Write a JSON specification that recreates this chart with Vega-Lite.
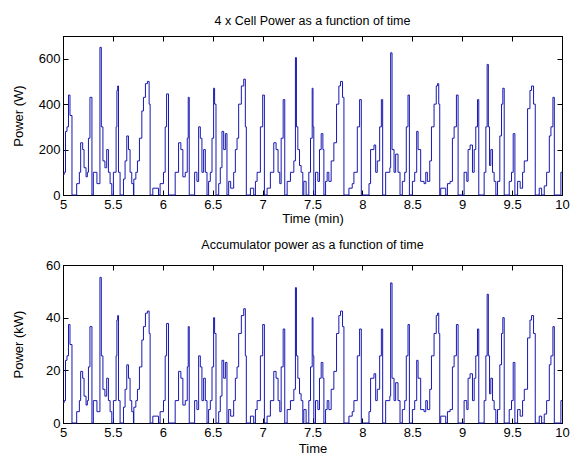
{
  "$schema": "https://vega.github.io/schema/vega-lite/v6.json",
  "background": "white",
  "padding": {"left": 11, "top": 14, "right": 4, "bottom": 4},
  "spacing": 12,
  "config": {
    "font": "Liberation Sans",
    "view": {"stroke": "black", "strokeWidth": 1},
    "axis": {
      "grid": false,
      "domainColor": "black",
      "tickColor": "black",
      "labelColor": "black",
      "titleColor": "black",
      "labelFontSize": 13,
      "titleFontSize": 13,
      "titleFontWeight": "normal",
      "tickSize": -5,
      "labelPadding": 8,
      "labelFlush": false,
      "labelOverlap": false
    },
    "title": {"fontSize": 12.5, "fontWeight": "normal", "color": "black", "anchor": "middle", "offset": 8}
  },
  "datasets": {
    "d": [
      {"t":5.000,"w":90,"k":7.7},{"t":5.012,"w":100,"k":8.5},{"t":5.025,"w":280,"k":23.8},{"t":5.040,"w":300,"k":25.5},{"t":5.055,"w":440,"k":37.4},{"t":5.070,"w":350,"k":29.8},{"t":5.090,"w":0,"k":0},
      {"t":5.137,"w":50,"k":4.3},{"t":5.164,"w":100,"k":8.5},{"t":5.177,"w":230,"k":19.6},{"t":5.197,"w":200,"k":17},{"t":5.211,"w":120,"k":10.2},{"t":5.231,"w":80,"k":6.8},{"t":5.244,"w":100,"k":8.5},{"t":5.255,"w":250,"k":21.3},{"t":5.270,"w":430,"k":36.6},{"t":5.290,"w":0,"k":0},
      {"t":5.304,"w":100,"k":8.5},{"t":5.340,"w":50,"k":4.3},{"t":5.370,"w":650,"k":55.3},{"t":5.384,"w":300,"k":25.5},{"t":5.400,"w":150,"k":12.8},{"t":5.420,"w":120,"k":10.2},{"t":5.438,"w":200,"k":17},{"t":5.455,"w":100,"k":8.5},{"t":5.472,"w":50,"k":4.3},{"t":5.489,"w":0,"k":0},
      {"t":5.505,"w":100,"k":8.5},{"t":5.532,"w":300,"k":25.5},{"t":5.540,"w":460,"k":39.1},{"t":5.548,"w":480,"k":40.8},{"t":5.556,"w":100,"k":8.5},{"t":5.572,"w":0,"k":0},
      {"t":5.606,"w":70,"k":6},{"t":5.622,"w":150,"k":12.8},{"t":5.639,"w":260,"k":22.1},{"t":5.656,"w":200,"k":17},{"t":5.672,"w":100,"k":8.5},{"t":5.689,"w":50,"k":4.3},{"t":5.706,"w":0,"k":0},
      {"t":5.710,"w":70,"k":6},{"t":5.730,"w":100,"k":8.5},{"t":5.746,"w":150,"k":12.8},{"t":5.766,"w":250,"k":21.3},{"t":5.790,"w":370,"k":31.5},{"t":5.806,"w":430,"k":36.6},{"t":5.826,"w":490,"k":41.7},{"t":5.846,"w":500,"k":42.5},{"t":5.863,"w":400,"k":34},{"t":5.873,"w":0,"k":0},
      {"t":5.900,"w":30,"k":2.6},{"t":5.957,"w":0,"k":0},{"t":5.973,"w":50,"k":4.3},{"t":6.007,"w":100,"k":8.5},{"t":6.024,"w":300,"k":25.5},{"t":6.038,"w":445,"k":37.8},{"t":6.057,"w":0,"k":0},
      {"t":6.124,"w":100,"k":8.5},{"t":6.158,"w":230,"k":19.6},{"t":6.181,"w":200,"k":17},{"t":6.201,"w":80,"k":6.8},{"t":6.225,"w":100,"k":8.5},{"t":6.245,"w":250,"k":21.3},{"t":6.255,"w":430,"k":36.6},{"t":6.265,"w":0,"k":0},
      {"t":6.319,"w":100,"k":8.5},{"t":6.342,"w":60,"k":5.1},{"t":6.359,"w":300,"k":25.5},{"t":6.376,"w":250,"k":21.3},{"t":6.392,"w":100,"k":8.5},{"t":6.409,"w":200,"k":17},{"t":6.426,"w":100,"k":8.5},{"t":6.443,"w":0,"k":0},
      {"t":6.459,"w":60,"k":5.1},{"t":6.476,"w":100,"k":8.5},{"t":6.493,"w":250,"k":21.3},{"t":6.509,"w":470,"k":40},{"t":6.519,"w":400,"k":34},{"t":6.533,"w":0,"k":0},
      {"t":6.560,"w":50,"k":4.3},{"t":6.576,"w":120,"k":10.2},{"t":6.593,"w":280,"k":23.8},{"t":6.610,"w":200,"k":17},{"t":6.627,"w":270,"k":23},{"t":6.643,"w":0,"k":0},
      {"t":6.660,"w":60,"k":5.1},{"t":6.680,"w":30,"k":2.6},{"t":6.710,"w":100,"k":8.5},{"t":6.727,"w":200,"k":17},{"t":6.744,"w":250,"k":21.3},{"t":6.760,"w":400,"k":34},{"t":6.787,"w":480,"k":40.8},{"t":6.811,"w":510,"k":43.4},{"t":6.827,"w":300,"k":25.5},{"t":6.837,"w":0,"k":0},
      {"t":6.878,"w":30,"k":2.6},{"t":6.911,"w":0,"k":0},{"t":6.928,"w":60,"k":5.1},{"t":6.945,"w":100,"k":8.5},{"t":6.978,"w":300,"k":25.5},{"t":7.001,"w":440,"k":37.4},{"t":7.018,"w":0,"k":0},
      {"t":7.045,"w":30,"k":2.6},{"t":7.078,"w":100,"k":8.5},{"t":7.112,"w":230,"k":19.6},{"t":7.135,"w":200,"k":17},{"t":7.155,"w":100,"k":8.5},{"t":7.172,"w":50,"k":4.3},{"t":7.186,"w":250,"k":21.3},{"t":7.206,"w":420,"k":35.7},{"t":7.222,"w":0,"k":0},
      {"t":7.246,"w":60,"k":5.1},{"t":7.279,"w":100,"k":8.5},{"t":7.313,"w":150,"k":12.8},{"t":7.329,"w":605,"k":51.4},{"t":7.339,"w":300,"k":25.5},{"t":7.353,"w":200,"k":17},{"t":7.370,"w":130,"k":11.1},{"t":7.386,"w":100,"k":8.5},{"t":7.403,"w":0,"k":0},{"t":7.413,"w":60,"k":5.1},{"t":7.436,"w":0,"k":0},
      {"t":7.463,"w":100,"k":8.5},{"t":7.480,"w":250,"k":21.3},{"t":7.497,"w":470,"k":40},{"t":7.505,"w":300,"k":25.5},{"t":7.513,"w":0,"k":0},
      {"t":7.530,"w":100,"k":8.5},{"t":7.554,"w":60,"k":5.1},{"t":7.570,"w":200,"k":17},{"t":7.587,"w":270,"k":23},{"t":7.604,"w":200,"k":17},{"t":7.614,"w":0,"k":0},
      {"t":7.631,"w":60,"k":5.1},{"t":7.647,"w":100,"k":8.5},{"t":7.664,"w":60,"k":5.1},{"t":7.687,"w":150,"k":12.8},{"t":7.714,"w":230,"k":19.6},{"t":7.741,"w":400,"k":34},{"t":7.764,"w":480,"k":40.8},{"t":7.781,"w":500,"k":42.5},{"t":7.801,"w":430,"k":36.6},{"t":7.815,"w":0,"k":0},
      {"t":7.865,"w":30,"k":2.6},{"t":7.898,"w":50,"k":4.3},{"t":7.915,"w":100,"k":8.5},{"t":7.949,"w":300,"k":25.5},{"t":7.972,"w":420,"k":35.7},{"t":7.989,"w":0,"k":0},
      {"t":8.066,"w":50,"k":4.3},{"t":8.082,"w":200,"k":17},{"t":8.116,"w":220,"k":18.7},{"t":8.133,"w":100,"k":8.5},{"t":8.149,"w":150,"k":12.8},{"t":8.173,"w":300,"k":25.5},{"t":8.190,"w":420,"k":35.7},{"t":8.203,"w":0,"k":0},
      {"t":8.233,"w":100,"k":8.5},{"t":8.275,"w":120,"k":10.2},{"t":8.283,"w":626,"k":53.2},{"t":8.297,"w":200,"k":17},{"t":8.317,"w":100,"k":8.5},{"t":8.333,"w":180,"k":15.3},{"t":8.357,"w":100,"k":8.5},{"t":8.377,"w":0,"k":0},
      {"t":8.400,"w":60,"k":5.1},{"t":8.424,"w":100,"k":8.5},{"t":8.440,"w":300,"k":25.5},{"t":8.457,"w":440,"k":37.4},{"t":8.471,"w":0,"k":0},
      {"t":8.501,"w":60,"k":5.1},{"t":8.524,"w":100,"k":8.5},{"t":8.544,"w":280,"k":23.8},{"t":8.558,"w":200,"k":17},{"t":8.584,"w":60,"k":5.1},{"t":8.618,"w":50,"k":4.3},{"t":8.635,"w":100,"k":8.5},{"t":8.651,"w":60,"k":5.1},{"t":8.675,"w":150,"k":12.8},{"t":8.692,"w":300,"k":25.5},{"t":8.718,"w":400,"k":34},{"t":8.740,"w":480,"k":40.8},{"t":8.752,"w":490,"k":41.7},{"t":8.765,"w":400,"k":34},{"t":8.775,"w":0,"k":0},
      {"t":8.785,"w":30,"k":2.6},{"t":8.835,"w":0,"k":0},{"t":8.852,"w":50,"k":4.3},{"t":8.879,"w":60,"k":5.1},{"t":8.902,"w":250,"k":21.3},{"t":8.919,"w":300,"k":25.5},{"t":8.942,"w":440,"k":37.4},{"t":8.959,"w":0,"k":0},
      {"t":9.019,"w":100,"k":8.5},{"t":9.046,"w":60,"k":5.1},{"t":9.059,"w":200,"k":17},{"t":9.079,"w":220,"k":18.7},{"t":9.103,"w":100,"k":8.5},{"t":9.120,"w":200,"k":17},{"t":9.136,"w":300,"k":25.5},{"t":9.153,"w":420,"k":35.7},{"t":9.166,"w":0,"k":0},
      {"t":9.220,"w":100,"k":8.5},{"t":9.237,"w":300,"k":25.5},{"t":9.250,"w":575,"k":48.9},{"t":9.262,"w":300,"k":25.5},{"t":9.274,"w":130,"k":11.1},{"t":9.287,"w":200,"k":17},{"t":9.304,"w":100,"k":8.5},{"t":9.320,"w":60,"k":5.1},{"t":9.337,"w":0,"k":0},
      {"t":9.354,"w":60,"k":5.1},{"t":9.377,"w":260,"k":22.1},{"t":9.394,"w":400,"k":34},{"t":9.407,"w":470,"k":40},{"t":9.421,"w":0,"k":0},
      {"t":9.471,"w":60,"k":5.1},{"t":9.494,"w":100,"k":8.5},{"t":9.511,"w":270,"k":23},{"t":9.528,"w":0,"k":0},
      {"t":9.555,"w":60,"k":5.1},{"t":9.581,"w":30,"k":2.6},{"t":9.605,"w":100,"k":8.5},{"t":9.622,"w":150,"k":12.8},{"t":9.655,"w":380,"k":32.3},{"t":9.679,"w":460,"k":39.1},{"t":9.695,"w":480,"k":40.8},{"t":9.715,"w":400,"k":34},{"t":9.732,"w":0,"k":0},
      {"t":9.772,"w":30,"k":2.6},{"t":9.796,"w":0,"k":0},{"t":9.822,"w":40,"k":3.4},{"t":9.846,"w":100,"k":8.5},{"t":9.873,"w":260,"k":22.1},{"t":9.889,"w":300,"k":25.5},{"t":9.909,"w":430,"k":36.6},{"t":9.923,"w":0,"k":0},
      {"t":9.989,"w":100,"k":8.5},{"t":10.000,"w":100,"k":8.5}
    ]
  },
  "vconcat": [
    {
      "width": 499,
      "height": 159,
      "title": {"text": "4 x Cell Power as a function of time"},
      "data": {"name": "d"},
      "layer": [
        {
          "mark": {"type": "line", "interpolate": "step-after", "color": "#1818b0", "strokeWidth": 1},
          "encoding": {
            "x": {"field": "t", "type": "quantitative", "scale": {"domain": [5, 10], "nice": false, "zero": false},
                  "axis": {"orient": "bottom", "values": [5, 5.5, 6, 6.5, 7, 7.5, 8, 8.5, 9, 9.5, 10], "format": "~g", "title": "Time (min)", "titlePadding": 1}},
            "y": {"field": "w", "type": "quantitative", "scale": {"domain": [0, 700], "nice": false},
                  "axis": {"orient": "left", "values": [0, 200, 400, 600], "title": "Power (W)", "titlePadding": 13}}
          }
        },
        {
          "mark": {"type": "line", "opacity": 0},
          "encoding": {
            "x": {"field": "t", "type": "quantitative",
                  "axis": {"orient": "top", "values": [5, 5.5, 6, 6.5, 7, 7.5, 8, 8.5, 9, 9.5, 10], "labels": false, "title": null}},
            "y": {"field": "w", "type": "quantitative",
                  "axis": {"orient": "right", "values": [0, 200, 400, 600], "labels": false, "title": null}}
          }
        }
      ],
      "resolve": {"axis": {"x": "independent", "y": "independent"}}
    },
    {
      "width": 499,
      "height": 158,
      "title": {"text": "Accumulator power as a function of time"},
      "data": {"name": "d"},
      "layer": [
        {
          "mark": {"type": "line", "interpolate": "step-after", "color": "#1818b0", "strokeWidth": 1},
          "encoding": {
            "x": {"field": "t", "type": "quantitative", "scale": {"domain": [5, 10], "nice": false, "zero": false},
                  "axis": {"orient": "bottom", "values": [5, 5.5, 6, 6.5, 7, 7.5, 8, 8.5, 9, 9.5, 10], "format": "~g", "title": "Time", "titlePadding": 3}},
            "y": {"field": "k", "type": "quantitative", "scale": {"domain": [0, 60], "nice": false},
                  "axis": {"orient": "left", "values": [0, 20, 40, 60], "title": "Power (kW)", "titlePadding": 20}}
          }
        },
        {
          "mark": {"type": "line", "opacity": 0},
          "encoding": {
            "x": {"field": "t", "type": "quantitative",
                  "axis": {"orient": "top", "values": [5, 5.5, 6, 6.5, 7, 7.5, 8, 8.5, 9, 9.5, 10], "labels": false, "title": null}},
            "y": {"field": "k", "type": "quantitative",
                  "axis": {"orient": "right", "values": [0, 20, 40, 60], "labels": false, "title": null}}
          }
        }
      ],
      "resolve": {"axis": {"x": "independent", "y": "independent"}}
    }
  ]
}
